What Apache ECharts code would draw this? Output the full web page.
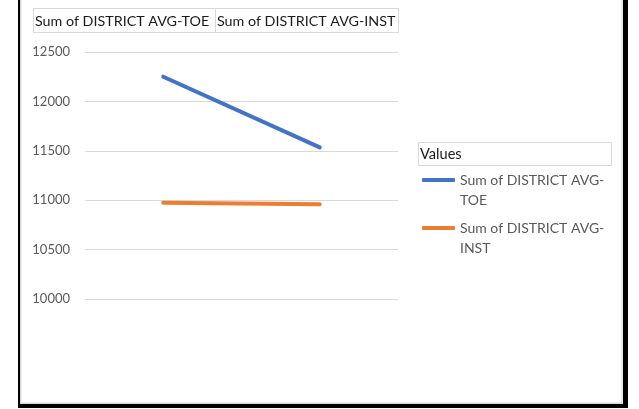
<!DOCTYPE html>
<html>
<head>
<meta charset="utf-8">
<script src="https://cdn.jsdelivr.net/npm/echarts@6/dist/echarts.min.js"></script>
<style>
html, body { margin: 0; padding: 0; background: #fff; }
#chart { width: 639px; height: 409px; }
</style>
</head>
<body>
<div id="chart"></div>
<script>
// data
const categories = ['', ''];
const seriesNames = ['Sum of DISTRICT AVG-TOE', 'Sum of DISTRICT AVG-INST'];
const toeValues = [12250, 11535];
const instValues = [10973, 10960];
const yMin = 10000;
const yMax = 12500;
const yStep = 500;

const font = 'Lato, "Open Sans", sans-serif';
const chart = echarts.init(document.getElementById('chart'));

const option = {
  animation: false,
  backgroundColor: '#fff',
  grid: { left: 85, right: 241, top: 52, bottom: 110, containLabel: false },
  xAxis: {
    type: 'category',
    data: categories,
    boundaryGap: true,
    axisLine: { show: false },
    axisTick: { show: false },
    axisLabel: { show: false },
    splitLine: { show: false }
  },
  yAxis: {
    type: 'value',
    min: yMin,
    max: yMax,
    interval: yStep,
    axisLine: { show: false },
    axisTick: { show: false },
    axisLabel: {
      color: '#595959', fontSize: 13, fontFamily: font, margin: 15,
      formatter: v => String(v)
    },
    splitLine: { lineStyle: { color: '#d9d9d9', width: 1 } }
  },
  legend: {
    orient: 'vertical',
    left: 417,
    top: 145,
    itemWidth: 33,
    itemHeight: 4,
    itemGap: -12,
    icon: 'roundRect',
    // blank first line keeps the icon level with the first text line
    formatter: name => '\n' + name.replace('AVG-', 'AVG-\n'),
    textStyle: { color: '#595959', fontSize: 14, fontFamily: font, lineHeight: 20 },
    data: seriesNames
  },
  series: [
    {
      name: seriesNames[0], type: 'line', data: toeValues,
      symbol: 'none', color: '#4472c4',
      lineStyle: { width: 4, color: '#4472c4', cap: 'round' }
    },
    {
      name: seriesNames[1], type: 'line', data: instValues,
      symbol: 'none', color: '#ed7d31',
      lineStyle: { width: 4, color: '#ed7d31', cap: 'round' }
    }
  ],
  graphic: [
    // field buttons
    { type: 'rect', shape: { x: 33.5, y: 8.5, width: 182, height: 24 }, style: { fill: '#fff', stroke: '#d9d9d9', lineWidth: 1 } },
    { type: 'rect', shape: { x: 215.5, y: 8.5, width: 183, height: 24 }, style: { fill: '#fff', stroke: '#d9d9d9', lineWidth: 1 } },
    { type: 'text', x: 35, y: 21, style: { text: seriesNames[0], fill: '#1a1a1a', font: '14.3px ' + font, verticalAlign: 'middle' } },
    { type: 'text', x: 217, y: 21, style: { text: seriesNames[1], fill: '#1a1a1a', font: '14.3px ' + font, verticalAlign: 'middle' } },
    // legend title box
    { type: 'rect', shape: { x: 418.5, y: 142.5, width: 193, height: 23 }, style: { fill: '#fff', stroke: '#d9d9d9', lineWidth: 1 } },
    { type: 'text', x: 420, y: 154, style: { text: 'Values', fill: '#1a1a1a', font: '14.6px ' + font, verticalAlign: 'middle' } },
    // frame
    { type: 'rect', shape: { x: 20, y: 0, width: 1.5, height: 404 }, style: { fill: '#d9d9d9' } },
    { type: 'rect', shape: { x: 621, y: 0, width: 2, height: 404 }, style: { fill: '#e6e6e6' } },
    { type: 'rect', shape: { x: 20, y: 402.5, width: 603, height: 1.5 }, style: { fill: '#d9d9d9' } },
    { type: 'rect', shape: { x: 18, y: 0, width: 2, height: 408 }, style: { fill: '#000' } },
    { type: 'rect', shape: { x: 623, y: 0, width: 5, height: 408 }, style: { fill: '#000' } },
    { type: 'rect', shape: { x: 18, y: 404, width: 610, height: 4 }, style: { fill: '#000' } }
  ]
};

chart.setOption(option);
</script>
</body>
</html>
